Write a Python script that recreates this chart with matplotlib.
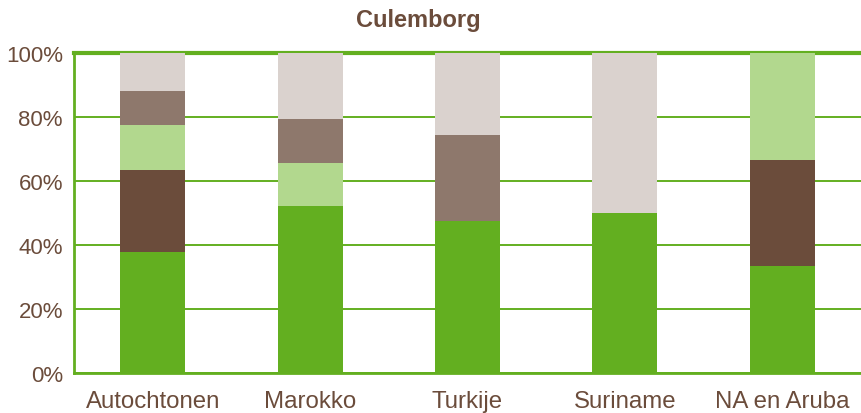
import numpy as np
import matplotlib
matplotlib.use("Agg")
import matplotlib.pyplot as plt
from matplotlib.ticker import PercentFormatter

# --- data (percentages per group, bottom to top) ---
categories = ["Autochtonen", "Marokko", "Turkije", "Suriname", "NA en Aruba"]
seg_green = [37.8, 52.2, 47.5, 50.0, 33.3]
seg_darkbrown = [25.6, 0.0, 0.0, 0.0, 33.4]
seg_lightgreen = [14.1, 13.4, 0.0, 0.0, 33.3]
seg_midbrown = [10.6, 13.8, 26.9, 0.0, 0.0]
seg_lightgray = [11.9, 20.6, 25.6, 50.0, 0.0]

series = [seg_green, seg_darkbrown, seg_lightgreen, seg_midbrown, seg_lightgray]
colors = ["#63AF20", "#6B4C3B", "#B2D88E", "#8E786C", "#DAD2CE"]

TXT = "#6B4C3B"
LINE = "#63AF20"

plt.rcParams['font.family'] = ['Liberation Sans', 'DejaVu Sans']

fig = plt.figure(figsize=(8.61, 4.14), dpi=100)
ax = fig.add_axes([74 / 861, 1 - 374 / 414, (861 - 74) / 861, 320 / 414])

x = np.arange(len(categories))
bottom = np.zeros(len(categories))
for vals, col in zip(series, colors):
    vals = np.array(vals)
    ax.bar(x, vals, width=0.413, bottom=bottom, color=col, zorder=3)
    bottom += vals

ax.set_xlim(-0.5, len(categories) - 0.5)
ax.set_ylim(0, 100)
ax.set_yticks(np.arange(0, 101, 20))
ax.yaxis.set_major_formatter(PercentFormatter(decimals=0))
ax.set_xticks(x)
ax.set_xticklabels(categories)

ax.grid(axis='y', color=LINE, linewidth=1.4, zorder=1)
ax.tick_params(axis='both', length=0, colors=TXT)
ax.tick_params(axis='y', pad=8, labelsize=16)
ax.tick_params(axis='x', pad=12, labelsize=17.3)

for side in ['left', 'bottom']:
    ax.spines[side].set_color(LINE)
    ax.spines[side].set_linewidth(2)
ax.spines['top'].set_color(LINE)
ax.spines['top'].set_linewidth(3)
ax.spines['right'].set_visible(False)

fig.text(418 / 861, 1 - 21 / 414, "Culemborg", ha='center', va='center',
         fontsize=17, fontweight='bold', color=TXT)

fig.savefig("out.png", dpi=100)
